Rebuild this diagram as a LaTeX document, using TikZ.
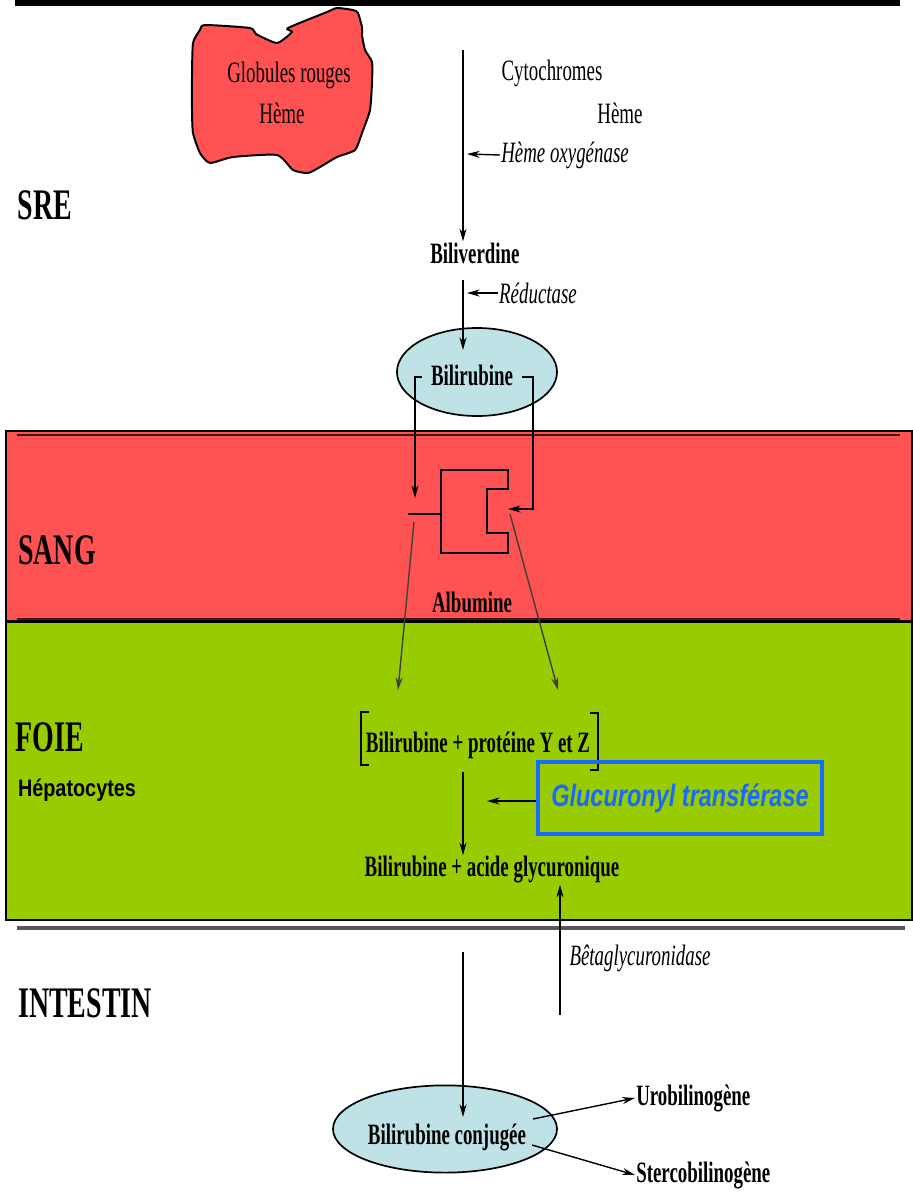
\documentclass[tikz,border=0pt]{standalone}
\usepackage{fontspec}
\usetikzlibrary{arrows.meta,shapes.geometric}
\newfontfamily\condfont{Liberation Serif}[FakeStretch=0.64]
\newfontfamily\enzfont{Liberation Sans}[FakeStretch=0.76]
\newfontfamily\hepfont{Liberation Sans}[FakeStretch=0.83]
\definecolor{sangred}{RGB}{255,82,82}
\definecolor{foiegreen}{RGB}{153,204,0}
\definecolor{bulleblue}{RGB}{190,226,230}
\definecolor{enzblue}{RGB}{25,105,255}
\tikzset{
  txt/.style={font=\condfont\fontsize{21}{24}\selectfont, inner sep=0.7pt},
  btxt/.style={font=\condfont\bfseries\fontsize{21}{24}\selectfont, inner sep=0.7pt},
  itxt/.style={font=\condfont\itshape\fontsize{21}{24}\selectfont, inner sep=0.7pt},
  zone/.style={font=\condfont\bfseries\fontsize{31}{34}\selectfont, inner sep=0pt},
  fleche/.style={-{Stealth[length=9pt,width=5pt]}, line width=1pt},
  bulle/.style={ellipse, draw, line width=1.2pt, fill=bulleblue, inner sep=0pt},
}

\begin{document}
\begin{tikzpicture}[x=0.025cm,y=-0.025cm]
    \useasboundingbox (0,0) rectangle (913,1193);
    % bandes
    \draw[line width=4pt] (15,3) -- (900,3);
    \draw[fill=sangred,line width=1pt] (6,431) rectangle (912,621);
    \draw[black!75!sangred,line width=2pt] (17,435) -- (900,435);
    \draw[black!75!sangred,line width=2pt] (17,619) -- (900,619);
    \draw[fill=foiegreen,line width=1.4pt] (6,622) rectangle (912,920);
    \draw[black!65,line width=2.2pt] (17,928) -- (905,928);
    % globules rouges
    \draw[fill=sangred,line width=1.4pt] plot[smooth cycle,tension=0.35] coordinates {
      (205,25) (250,28) (256,34) (277,43) (292,32) (288,28) (327,12) (337,8)
      (353,10) (358,13) (362,27) (362,35) (365,50) (372,62) (372,83) (370,110)
      (362,133) (355,150) (337,157) (320,167) (308,173) (293,170) (277,155)
      (233,157) (210,163) (200,153) (193,133) (192,110) (192,77) (193,43) (200,30)};
    \node[txt] (globules) at (289,75) {Globules rouges};
    \node[txt] (hemegr) at (282,113) {Hème};
    % SRE
    \node[zone] (sre) at (45,205) {SRE};
    \node[txt] (cyto) at (552,73) {Cytochromes};
    \node[txt] (hemecyto) at (620,113) {Hème};
    \node[itxt] (hemeox) at (565,155) {Hème oxygénase};
    \node[btxt] (biliverdine) at (475,253) {Biliverdine};
    \node[itxt] (reductase) at (538,293) {Réductase};
    \node[bulle,minimum width=4cm,minimum height=2.2cm] (bilirubine) at (477,372) {};
    \node[btxt] (bilitxt) at (472,375) {Bilirubine};
    \coordinate (haut) at (463,50);
    \coordinate (hemeoxtip) at (467,154);
    \coordinate (redtip) at (467,293);
    \coordinate (bilidebut) at (463,280);
    \coordinate (bilifin) at (463,350);
    \draw[fleche] (haut) -- (haut |- biliverdine.north);
    \draw[fleche] (hemeox.west) -- (hemeoxtip);
    \draw[fleche] (reductase.west) -- (redtip);
    \draw[fleche] (bilidebut) -- (bilifin);
    % SANG
    \node[zone] (sang) at (57,550) {SANG};
    \coordinate (albL) at (441,514);
    \coordinate (albR) at (508,509);
    \draw[line width=1.2pt] (441,470) -- (508,470) -- (508,489) -- (487,489)
      -- (487,533) -- (508,533) -- (508,553) -- (441,553) -- cycle;
    \draw[line width=1.2pt] (408,514) -- (albL);
    \draw[fleche] (422,377) -- (415,377) -- (415,498);
    \draw[fleche] (522,377) -- (533,377) |- (albR);
    \node[btxt] (albumine) at (472,602) {Albumine};
    % FOIE
    \node[zone] (foie) at (50,737) {FOIE};
    \node[font=\hepfont\bfseries\fontsize{17}{20}\selectfont,inner sep=0pt] (hepato) at (77,790) {Hépatocytes};
    \node[btxt] (bpyz) at (478,745) {Bilirubine + protéine Y et Z};
    \draw[line width=1.1pt] (369,712) -- (361,712) -- (361,765) -- (369,765);
    \draw[line width=1.1pt] (590,713) -- (598,713) -- (598,770) -- (590,770);
    \draw[fleche,black!75] (414,522) -- (398,690);
    \draw[fleche,black!75] (510,514) -- (558,690);
    \node[draw=enzblue,line width=2.8pt,minimum width=7.1cm,minimum height=1.8cm,
      font=\enzfont\bfseries\itshape\fontsize{22}{25}\selectfont,text=enzblue] (gluco) at (680,798) {Glucuronyl transférase};
    \coordinate (glucotip) at (487,801);
    \draw[fleche] (gluco.west |- glucotip) -- (glucotip);
    \node[btxt] (bagc) at (492,870) {Bilirubine + acide glycuronique};
    \coordinate (foiehaut) at (463,772);
    \draw[fleche] (foiehaut) -- (foiehaut |- bagc.north);
    % INTESTIN
    \node[zone] (intestin) at (85,1003) {INTESTIN};
    \node[itxt] (beta) at (640,958) {Bêtaglycuronidase};
    \coordinate (betabas) at (560,1015);
    \draw[fleche] (betabas) -- (betabas |- bagc.south);
    \node[bulle,minimum width=5.6cm,minimum height=2.18cm] (conj) at (445,1129) {};
    \node[btxt] (conjtxt) at (447,1137) {Bilirubine conjugée};
    \coordinate (intdebut) at (463,952);
    \coordinate (intfin) at (463,1117);
    \draw[fleche] (intdebut) -- (intfin);
    \node[btxt,anchor=west] (uro) at (635,1098) {Urobilinogène};
    \node[btxt,anchor=west] (sterco) at (635,1175) {Stercobilinogène};
    \draw[fleche] (533,1119) -- (uro.west);
    \draw[fleche] (532,1145) -- (sterco.west);
\end{tikzpicture}
\end{document}
